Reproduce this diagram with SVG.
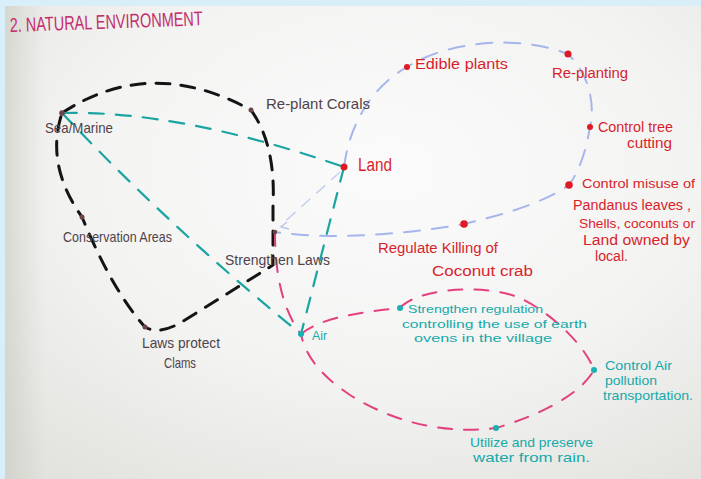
<svg xmlns="http://www.w3.org/2000/svg" width="701" height="479" viewBox="0 0 701 479">
  <defs>
    <radialGradient id="board" cx="0.55" cy="0.35" r="0.8">
      <stop offset="0" stop-color="#fbfbfb"/>
      <stop offset="0.55" stop-color="#f3f3f2"/>
      <stop offset="1" stop-color="#e2e2de"/>
    </radialGradient>
    <linearGradient id="leftShade" x1="0" y1="0" x2="1" y2="0">
      <stop offset="0" stop-color="#c8c8c0" stop-opacity="0.55"/>
      <stop offset="1" stop-color="#c8c8c0" stop-opacity="0"/>
    </linearGradient>
  </defs>
  <style>
    .lbl { font-family: "Liberation Sans", "DejaVu Sans", sans-serif; }
    .gray { fill: #50434a; font-size: 14.5px; }
    .red { fill: #d81f2c; font-size: 15.5px; }
    .edge { font-size: 13.5px; }
    .teal { fill: #16a9aa; font-size: 13px; }
    .tight { font-size: 11.5px; }
    .title { fill: #c42d6b; font-size: 20px; }
    .big { font-size: 18px; }
    .dot-b { fill: #6b4546; }
    .dot-r { fill: #e01a24; }
    .dot-t { fill: #1bb0b0; }
    .blk { fill: none; stroke: #141414; stroke-width: 3; stroke-dasharray: 14 11; stroke-linecap: round; }
    .tl { fill: none; stroke: #1aa4a2; stroke-width: 2.2; stroke-dasharray: 15 12; stroke-linecap: round; }
    .bl { fill: none; stroke: #a6b6ec; stroke-width: 2; stroke-dasharray: 16 12; stroke-linecap: round; }
    .bl-faint { fill: none; stroke: #c4d0ee; stroke-width: 1.5; stroke-dasharray: 12 8; }
    .pk { fill: none; stroke: #e2407e; stroke-width: 2; stroke-dasharray: 14 12; stroke-linecap: round; }
  </style>

  <!-- frame and whiteboard -->
  <rect x="0" y="0" width="701" height="479" fill="#d8eff9"/>
  <rect x="5" y="6" width="696" height="473" fill="url(#board)"/>
  <rect x="5" y="6" width="40" height="473" fill="url(#leftShade)"/>

  <!-- title -->
  <text class="lbl title" x="10" y="32" textLength="193" lengthAdjust="spacingAndGlyphs" transform="rotate(-2 10 32)">2. NATURAL ENVIRONMENT</text>

  <g id="connectors">
    <!-- black loop: marine / corals / laws / clams / conservation -->
    <path class="blk" d="M62,113 Q150,55 251,110 Q276,145 273,205 L273,265 Q230,292 185,320 Q160,336 145,327 Q112,290 82,217 Q45,165 62,113"/>
    <!-- teal links -->
    <path class="tl" d="M62,113 Q180,110 344,167"/>
    <path class="tl" d="M62,113 Q175,232 301,334"/>
    <path class="tl" d="M344,167 L301,334"/>
    <!-- blue land loop -->
    <path class="bl" d="M344,167 C350,120 375,85 407,67 C450,40 520,35 568,54 C590,75 595,105 590,127 C586,150 580,170 569,185 C540,205 500,215 464,224 C400,235 330,240 275,232"/>
    <path class="bl-faint" d="M340,172 L280,226"/>
    <path fill="none" stroke="#b8c4e6" stroke-width="1.3" d="M287,222 L281,227 L289,229"/>
    <!-- pink links -->
    <path class="pk" d="M275,232 Q275,300 301,334"/>
    <path class="pk" d="M301,334 C320,318 360,312 400,308 C415,290 480,282 520,298 C550,312 585,345 594,370 C580,395 540,415 496,428 C440,435 390,420 350,395 C320,375 305,355 301,334"/>
  </g>

  <g id="sea-marine">
    <circle class="dot-b" cx="62" cy="113" r="2.8"/>
    <text class="lbl gray" x="45" y="133" textLength="68" lengthAdjust="spacingAndGlyphs">Sea/Marine</text>
  </g>
  <g id="replant-corals">
    <circle class="dot-b" cx="251" cy="110" r="2.5"/>
    <text class="lbl gray" x="266" y="109" textLength="104" lengthAdjust="spacingAndGlyphs">Re-plant Corals</text>
  </g>
  <g id="conservation-areas">
    <circle class="dot-b" cx="82" cy="217" r="2.5"/>
    <text class="lbl gray" x="63" y="242" textLength="109" lengthAdjust="spacingAndGlyphs">Conservation Areas</text>
  </g>
  <g id="strengthen-laws">
    <circle class="dot-b" cx="275" cy="232" r="2.3"/>
    <text class="lbl gray" x="225" y="265" textLength="105" lengthAdjust="spacingAndGlyphs">Strengthen Laws</text>
  </g>
  <g id="laws-protect-clams">
    <circle class="dot-b" cx="145" cy="327" r="2.5"/>
    <text class="lbl gray" x="142" y="348" textLength="78" lengthAdjust="spacingAndGlyphs">Laws protect</text>
    <text class="lbl gray" x="164" y="368" textLength="32" lengthAdjust="spacingAndGlyphs">Clams</text>
  </g>

  <g id="land">
    <circle class="dot-r" cx="344" cy="167" r="3.5"/>
    <text class="lbl red big" x="358" y="171" textLength="34" lengthAdjust="spacingAndGlyphs">Land</text>
  </g>
  <g id="edible-plants">
    <circle class="dot-r" cx="407" cy="67" r="3"/>
    <text class="lbl red" x="415" y="69" textLength="93" lengthAdjust="spacingAndGlyphs">Edible plants</text>
  </g>
  <g id="re-planting">
    <circle class="dot-r" cx="568" cy="54" r="3.5"/>
    <text class="lbl red" x="552" y="78" textLength="76" lengthAdjust="spacingAndGlyphs">Re-planting</text>
  </g>
  <g id="control-tree-cutting">
    <circle class="dot-r" cx="590" cy="127" r="3"/>
    <text class="lbl red" x="598" y="132" textLength="75" lengthAdjust="spacingAndGlyphs">Control tree</text>
    <text class="lbl red" x="627" y="148" textLength="45" lengthAdjust="spacingAndGlyphs">cutting</text>
  </g>
  <g id="control-misuse">
    <circle class="dot-r" cx="569" cy="185" r="3.8"/>
    <text class="lbl red edge" x="582" y="188" textLength="113" lengthAdjust="spacingAndGlyphs">Control misuse of</text>
    <text class="lbl red" x="573" y="210" textLength="118" lengthAdjust="spacingAndGlyphs">Pandanus leaves ,</text>
    <text class="lbl red edge" x="579" y="228" textLength="116" lengthAdjust="spacingAndGlyphs">Shells, coconuts or</text>
    <text class="lbl red" x="583" y="245" textLength="107" lengthAdjust="spacingAndGlyphs">Land owned by</text>
    <text class="lbl red" x="595" y="261" textLength="33" lengthAdjust="spacingAndGlyphs">local.</text>
  </g>
  <g id="regulate-crab">
    <circle class="dot-r" cx="464" cy="224" r="3.8"/>
    <text class="lbl red" x="378" y="253" textLength="120" lengthAdjust="spacingAndGlyphs">Regulate Killing of</text>
    <text class="lbl red" x="432" y="276" textLength="101" lengthAdjust="spacingAndGlyphs">Coconut crab</text>
  </g>

  <g id="air">
    <circle class="dot-t" cx="301" cy="334" r="3"/>
    <text class="lbl teal" x="312" y="340" textLength="15" lengthAdjust="spacingAndGlyphs">Air</text>
  </g>
  <g id="earth-ovens">
    <circle class="dot-t" cx="400" cy="308" r="3"/>
    <text class="lbl teal tight" x="408" y="313" textLength="135" lengthAdjust="spacingAndGlyphs">Strengthen regulation</text>
    <text class="lbl teal tight" x="402" y="327.5" textLength="185" lengthAdjust="spacingAndGlyphs">controlling the use of earth</text>
    <text class="lbl teal tight" x="414" y="342" textLength="138" lengthAdjust="spacingAndGlyphs">ovens in the village</text>
  </g>
  <g id="control-air-pollution">
    <circle class="dot-t" cx="594" cy="370" r="3"/>
    <text class="lbl teal" x="605" y="370" textLength="67" lengthAdjust="spacingAndGlyphs">Control Air</text>
    <text class="lbl teal" x="605" y="385" textLength="52" lengthAdjust="spacingAndGlyphs">pollution</text>
    <text class="lbl teal" x="603" y="400" textLength="90" lengthAdjust="spacingAndGlyphs">transportation.</text>
  </g>
  <g id="rain-water">
    <circle class="dot-t" cx="496" cy="428" r="3"/>
    <text class="lbl teal" x="470" y="447" textLength="123" lengthAdjust="spacingAndGlyphs">Utilize and preserve</text>
    <text class="lbl teal" x="473" y="462" textLength="117" lengthAdjust="spacingAndGlyphs">water from rain.</text>
  </g>
</svg>
